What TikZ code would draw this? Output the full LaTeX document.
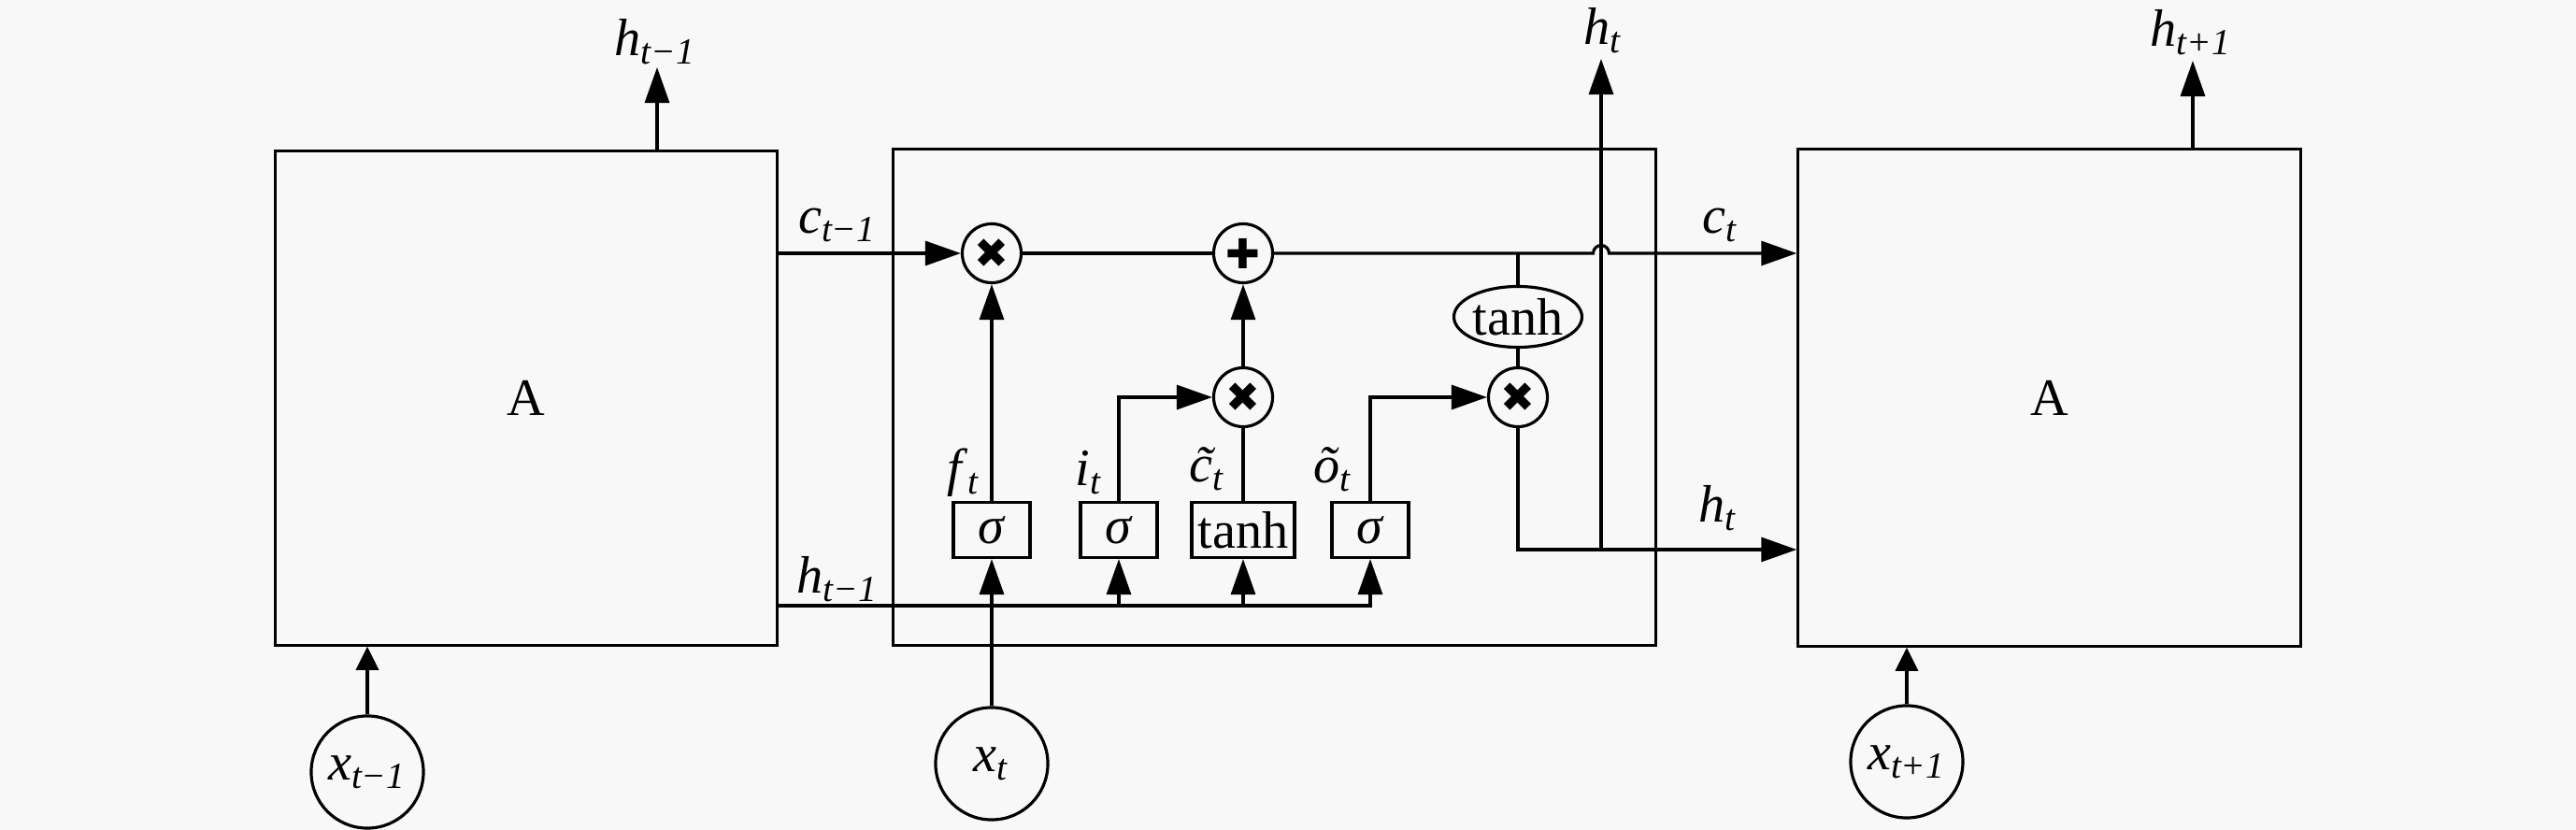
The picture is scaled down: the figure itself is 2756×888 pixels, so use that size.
\documentclass[tikz,border=0pt]{standalone}
\usepackage{fontspec}
\setmainfont{Liberation Serif}
\newfontfamily\opfont{DejaVu Sans}
\usetikzlibrary{arrows.meta,shapes.geometric}
\definecolor{paper}{RGB}{248,248,248}
\newsavebox{\marksave}
\newcommand{\var}[2]{\textit{#1}\textsubscript{\textit{#2}}}
\newcommand{\tld}[1]{\sbox{\marksave}{\textit{\char"0303}}\textit{#1\char"0303}\kern-\wd\marksave\textsubscript{\textit{t}}}
\tikzset{
	big/.style={-{Triangle[length=0.38cm,width=0.26cm]}},
	small/.style={-{Triangle[length=0.25cm,width=0.24cm]}},
	gate/.style={draw, minimum width=0.82cm, minimum height=0.59cm, inner sep=0pt},
	op/.style={draw, circle, minimum size=0.63cm, inner sep=0pt, font=\opfont\fontsize{12.5}{12.5}\selectfont},
	inp/.style={draw, circle, minimum size=1.2cm, inner sep=0pt},
	cellbox/.style={draw, inner sep=0pt}
}
\begin{document}
\begin{tikzpicture}[x=0.01cm, y=-0.01cm, line width=0.9pt, every node/.style={font=\fontsize{16}{18}\selectfont}]
		\fill[paper] (0,0) rectangle (2756,888);
		\useasboundingbox (0,0) rectangle (2756,888);
		
		%cells
		\node[cellbox, minimum width=5.36cm, minimum height=5.28cm] (boxL) at (563,426) {A};
		\node[cellbox, minimum width=8.15cm, minimum height=5.30cm] (cell) at (1363.5,425) {};
		\node[cellbox, minimum width=5.37cm, minimum height=5.31cm] (boxR) at (2192.5,425.5) {A};
		
		%inputs
		\node[inp] (xL) at (393,826) {\var{x}{t−1}};
		\node[inp] (xt) at (1061,817) {\var{x}{t}};
		\node[inp] (xR) at (2040,815) {\var{x}{t+1}};
		\draw[small] (xL.north) -- (xL.north |- boxL.south);
		\draw[small] (xR.north) -- (xR.north |- boxR.south);
		
		%gates
		\node[gate] (gf) at (1061,567) {\textit{σ}};
		\node[gate] (gi) at (1197,567) {\textit{σ}};
		\node[gate, minimum width=1.1cm] (gc) at (1330,567) {tanh};
		\node[gate] (go) at (1466,567) {\textit{σ}};
		\node at (1031,506) {\var{f}{t}};
		\node at (1165,506) {\var{i}{t}};
		\node at (1292,502) {\tld{c}};
		\node at (1426,502) {\var{õ}{t}};
		
		%pointwise operations
		\node[op] (mf) at (1061,271) {✖};
		\node[op] (add) at (1330,271) {✚};
		\node[op] (mi) at (1330,425) {✖};
		\node[op] (mo) at (1624,425) {✖};
		\node[draw, ellipse, minimum width=1.33cm, minimum height=0.65cm, inner sep=0pt] (th) at (1624,339) {tanh};
		
		\coordinate (hin) at (1061,648);
		\coordinate (hout) at (1713,588);
		\coordinate (hL) at (703,72);
		\coordinate (ht) at (1713,63);
		\coordinate (hR) at (2346,65);
		
		%cell state
		\draw[big] (boxL.east |- mf) -- (mf);
		\draw (mf) -- (add);
		\draw[big] (add) -- (1704.5,271) arc[start angle=180, end angle=360, radius=8.5] -- (boxR.west |- add);
		\draw (th.north) -- (th.north |- add);
		\draw (th) -- (mo);
		\node at (896,241) {\var{c}{t−1}};
		\node at (1841,241) {\var{c}{t}};
		
		%gate inputs
		\draw[big] (xt) -- (gf);
		\draw (boxL.east |- hin) -- (hin);
		\foreach \g in {gi,gc,go}{
			\draw[big] (hin) -| (\g.south);
		}
		\node at (896,620) {\var{h}{t−1}};
		
		%gate outputs
		\draw[big] (gf) -- (mf);
		\draw[big] (gi.north) |- (mi.west);
		\draw (gc) -- (mi);
		\draw[big] (mi) -- (add);
		\draw[big] (go.north) |- (mo.west);
		
		%hidden state
		\draw[big] (mo.south) |- (boxR.west |- hout);
		\draw[big] (hout) -- (ht);
		\node at (1838,544) {\var{h}{t}};
		
		%outputs
		\draw[big] (hL |- boxL.north) -- (hL);
		\draw[big] (hR |- boxR.north) -- (hR);
		\node at (701,45) {\var{h}{t−1}};
		\node at (1715,33) {\var{h}{t}};
		\node at (2344,35) {\var{h}{t+1}};
\end{tikzpicture}
\end{document}
